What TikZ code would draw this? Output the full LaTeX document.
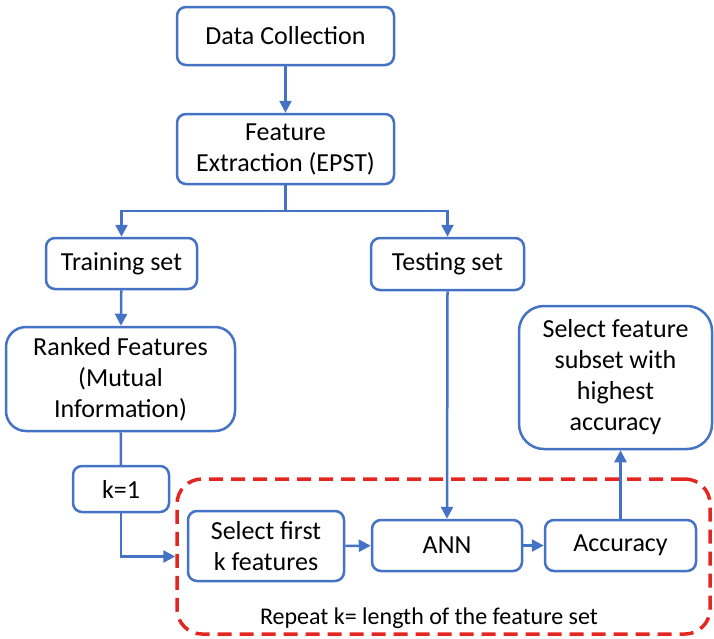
\documentclass[tikz,border=0pt]{standalone}
\usepackage{fontspec}
\setmainfont{Carlito}
\usetikzlibrary{arrows.meta}
\definecolor{bl}{HTML}{4472C4}
\definecolor{rd}{HTML}{E3261F}
\begin{document}
\begin{tikzpicture}[x=1pt,y=-1pt,
  box/.style={draw=bl, line width=2.5pt, rounded corners=9pt, fill=white, align=center, inner sep=0pt, font=\fontsize{26}{31}\selectfont},
  arr/.style={draw=bl, line width=2.5pt, -{Triangle[length=12pt,width=12pt]}},
  ln/.style={draw=bl, line width=2.5pt},
  loopbox/.style={draw=rd, line width=3.5pt, dash pattern=on 14pt off 8pt, rounded corners=25pt, inner sep=0pt}]
\useasboundingbox (0,0) rectangle (714,638);
\node[loopbox, minimum width=533pt, minimum height=155pt] (loop) at (443.5,556.5) {};
\node[font=\fontsize{24}{28}\selectfont] (rep) at (429,618) {Repeat k= length of the feature set};
\node[box, minimum width=217pt, minimum height=58pt] (dc) at (285.5,36) {Data Collection};
\node[box, minimum width=217pt, minimum height=70pt] (fe) at (285.5,149) {Feature\\Extraction (EPST)};
\node[box, minimum width=151pt, minimum height=51pt] (tr) at (121.5,263.5) {Training set};
\node[box, minimum width=153pt, minimum height=52pt] (te) at (447.5,264) {Testing set};
\node[box, rounded corners=20pt, minimum width=229pt, minimum height=104pt] (rk) at (120.5,379) {Ranked Features\\(Mutual\\Information)};
\node[box, minimum width=96pt, minimum height=46pt] (k1) at (121,489) {k=1};
\node[box, minimum width=156pt, minimum height=70pt] (sf) at (266,546) {Select first\\k features};
\node[box, minimum width=150pt, minimum height=51pt] (ann) at (447,545.5) {ANN};
\node[box, minimum width=151pt, minimum height=51pt] (acc) at (620.5,545.5) {Accuracy};
\node[box, rounded corners=25pt, minimum width=193pt, minimum height=143pt] (best) at (615.5,377.5) {Select feature\\subset with\\highest\\accuracy};
\coordinate (split) at (285.5,211);
\draw[arr] (dc) -- (fe);
\draw[ln] (fe.south) -- (split);
\draw[arr] (split) -| (tr.north);
\draw[arr] (split) -| (te.north);
\draw[arr] (tr) -- (rk);
\draw[ln] (rk) -- (k1);
\draw[arr] (k1.south) |- (loop.west);
\draw[arr] (te.south) -- (ann.north);
\draw[arr] (sf) -- (ann);
\draw[arr] (ann) -- (acc);
\draw[arr] (acc.north) -- (acc.north |- best.south);
\end{tikzpicture}
\end{document}
